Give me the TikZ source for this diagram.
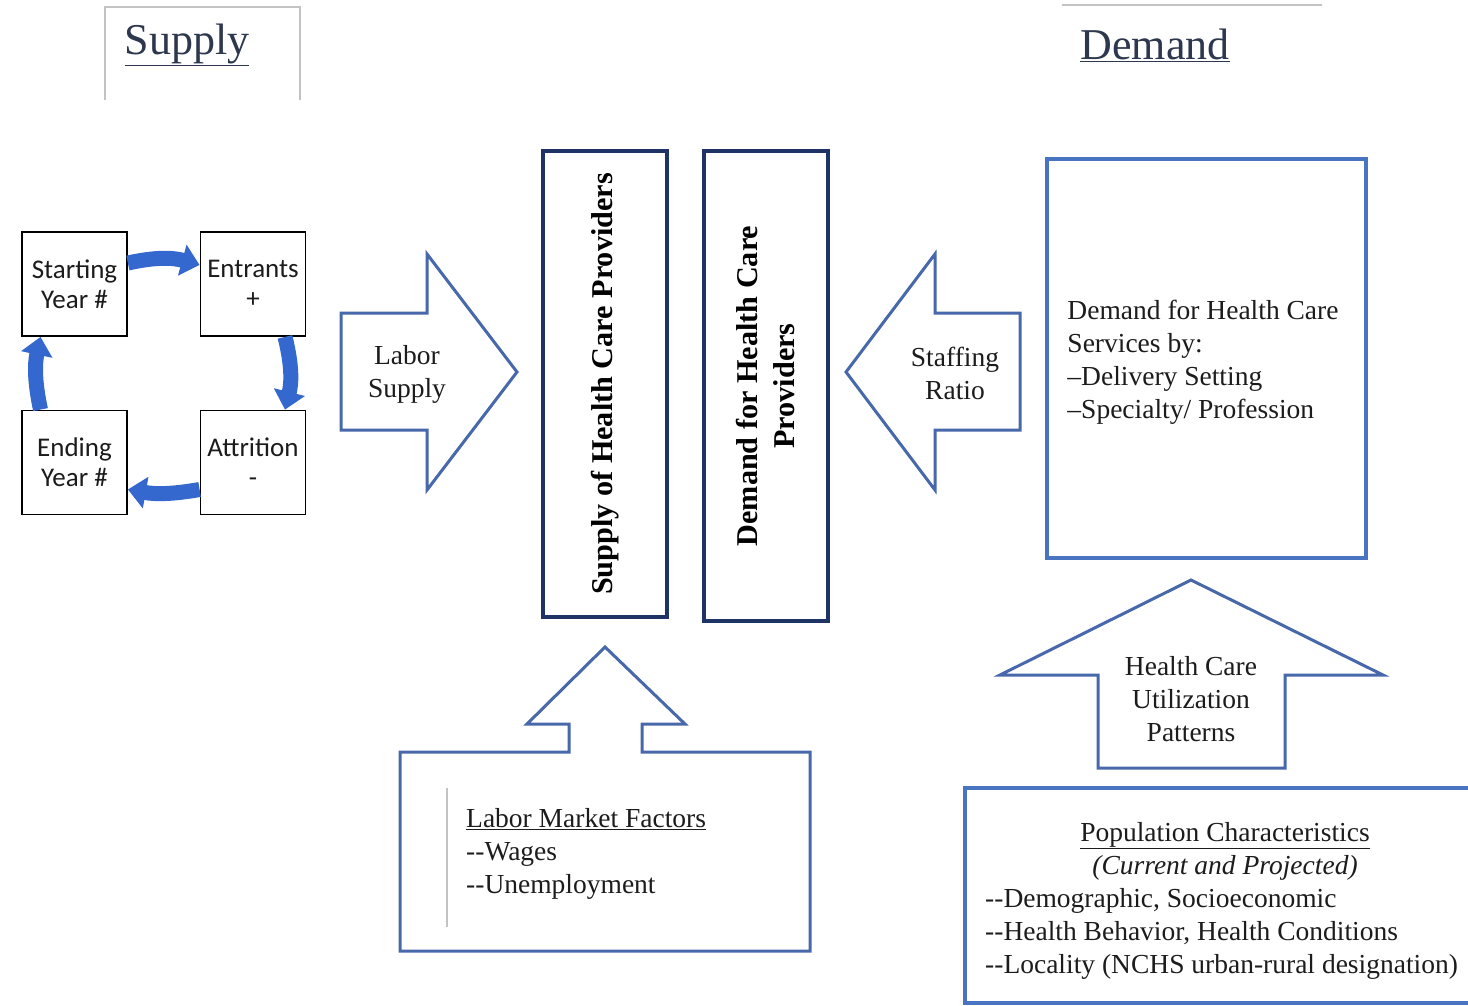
\documentclass[tikz,border=0pt]{standalone}
\usepackage{fontspec}
\setmainfont{Liberation Serif}
\newfontfamily\calib{Carlito}
\usetikzlibrary{arrows.meta}
\definecolor{arrowblue}{RGB}{72,104,172}
\definecolor{navy}{RGB}{30,52,100}
\definecolor{boxblue}{RGB}{72,116,194}
\definecolor{cycblue}{RGB}{52,104,206}
\definecolor{txt}{RGB}{28,28,28}
\definecolor{headtxt}{RGB}{45,55,78}
\definecolor{lightgray}{RGB}{195,195,195}
\begin{document}
\begin{tikzpicture}[x=1pt,y=-1pt,
  body/.style={font=\fontsize{27.5}{33}\selectfont, text=txt, inner sep=0pt},
  head/.style={font=\fontsize{44}{50}\selectfont, text=headtxt, inner sep=0pt},
  cycbox/.style={draw=black, line width=1.8pt, minimum width=105pt, minimum height=104pt,
     inner sep=0pt, align=center, font=\calib\fontsize{27}{30}\selectfont, text=txt},
  tallbox/.style={draw=navy, line width=4pt, inner sep=0pt, align=center,
     font=\bfseries\fontsize{30.2}{37}\selectfont, text=black},
  blockarrow/.style={draw=arrowblue, line width=3pt, fill=white, line join=miter},
  cyc/.style={draw=cycblue, line width=15pt, -{Triangle[width=31pt,length=18pt]}},
  framebox/.style={draw=boxblue, line width=3.5pt},
  hdrline/.style={draw=lightgray, line width=1.5pt}
]
\useasboundingbox (0,0) rectangle (1468,1006);
\fill[white] (0,0) rectangle (1468,1006);

% headers
\draw[hdrline] (105,100) -- (105,7) -- (300,7) -- (300,100);
\node[head] (hsup) at (187,45) {\underline{Supply}};
\draw[hdrline] (1062,5) -- (1322,5);
\node[head] (hdem) at (1155,45) {\underline{Demand}};

% cycle
\node[cycbox] (s) at (74.5,284) {Starting\\Year \#};
\node[cycbox] (e) at (253,284) {Entrants\\+};
\node[cycbox] (d) at (74.5,462.5) {Ending\\Year \#};
\node[cycbox] (a) at (253,462.5) {Attrition\\-};
\draw[cyc] ([yshift=21pt]s.east) to[bend left=14] ([yshift=19pt]e.west);
\draw[cyc] ([xshift=32pt]e.south) to[bend left=14] ([xshift=32pt]a.north);
\draw[cyc] ([yshift=-27pt]a.west) to[bend left=10] ([yshift=-27pt]d.east);
\draw[cyc] ([xshift=-34pt]d.north) to[bend left=12] ([xshift=-34pt]s.south);

% Labor supply arrow
\draw[blockarrow] (341,313) -- (427,313) -- (427,254) -- (517,372) -- (427,490) -- (427,430) -- (341,430) -- cycle;
\node[body, align=center] (ls) at (407,374) {Labor\\Supply};

% central boxes
\node[tallbox, rotate=90, minimum width=466pt, minimum height=124pt] (sup) at (605,384)
  {Supply of Health Care Providers};
\node[tallbox, rotate=90, minimum width=469pt, minimum height=124pt] (dem) at (766,386)
  {Demand for Health Care\\Providers};

% Staffing ratio arrow
\draw[blockarrow] (1020,313) -- (935,313) -- (935,254) -- (846,372) -- (935,490) -- (935,430) -- (1020,430) -- cycle;
\node[body, align=center] (sr) at (955,373) {Staffing\\Ratio};

% Demand services box
\draw[framebox] (1047,159) rectangle (1366,558);
\node[body, align=left] (ds) at (1203,362) {Demand for Health Care\\Services by:\\–Delivery Setting\\–Specialty/ Profession};

% Utilization arrow
\draw[blockarrow] (1098,768) -- (1098,675) -- (1000,675) -- (1191,580) -- (1383,675) -- (1285,675) -- (1285,768) -- cycle;
\node[body, align=center] (hu) at (1191,699) {Health Care\\Utilization\\Patterns};

% Population box
\draw[framebox] (1470,788) -- (965,788) -- (965,1003) -- (1470,1003);
\node[body, align=center] (pt) at (1225,851) {\underline{Population Characteristics}\\\textit{(Current and Projected)}};
\node[body, align=left, anchor=west] (pl) at (985,934) {-{}-Demographic, Socioeconomic\\-{}-Health Behavior, Health Conditions\\-{}-Locality (NCHS urban-rural designation)};

% Labor market factors
\draw[blockarrow] (400,752) -- (569,752) -- (569,724) -- (527,724) -- (605,647) -- (685,724) -- (642,724) -- (642,752) -- (810,752) -- (810,951) -- (400,951) -- cycle;
\draw[draw=lightgray, line width=1.2pt] (447,788) -- (447,927);
\node[body, align=left, anchor=west] (lm) at (466,854) {\underline{Labor Market Factors}\\-{}-Wages\\-{}-Unemployment};
\end{tikzpicture}
\end{document}
